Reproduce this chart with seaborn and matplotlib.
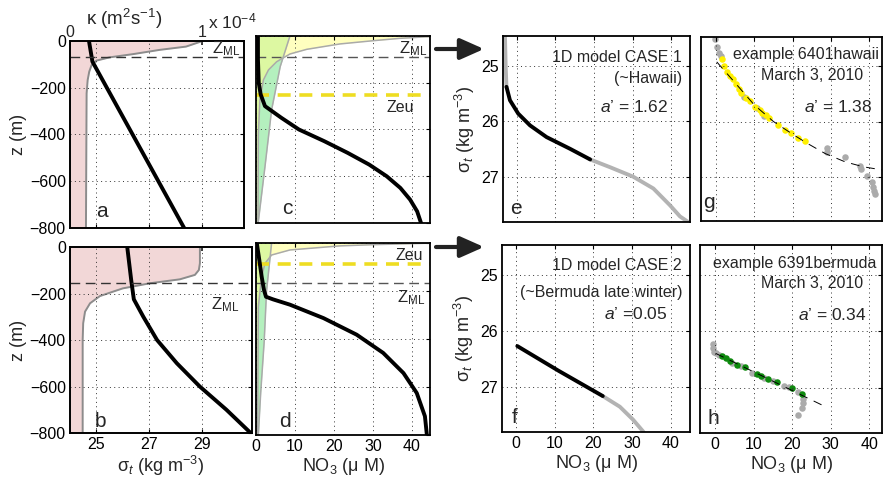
import matplotlib
matplotlib.use("Agg")
import matplotlib.pyplot as plt
import seaborn as sns

W, H = 883, 486

# ---- a / b : diffusivity kappa (units of 1e-4 m2/s) and sigma_t vs depth
kap_a_z = [0, -4, -24, -38, -56, -70, -84, -103, -131, -167, -224, -800]
kap_a = [1.0, 0.985, 0.88, 0.68, 0.48, 0.30, 0.20, 0.164, 0.146, 0.134, 0.126, 0.121]
sig_a_z = [0, -88, -800]
sig_a = [24.72, 24.85, 28.33]
zml_a = -70

kap_b_z = [0, -70, -99, -120, -139, -156, -178, -211, -242, -278, -328, -400, -800]
kap_b = [0.985, 0.985, 0.977, 0.947, 0.833, 0.606, 0.40, 0.227, 0.152, 0.114, 0.10, 0.096, 0.096]
sig_b_z = [0, -142, -225, -300, -400, -500, -600, -700, -800]
sig_b = [26.17, 26.32, 26.42, 26.78, 27.3, 28.05, 28.92, 29.93, 30.85]
zml_b = -155

# ---- c / d : light-like curve (yellow), green wedge, NO3 profile
yel_c_z = [0, -3, -10, -20, -34, -57, -77, -110, -145, -188, -274, -417, -800]
yel_c = [48, 44.2, 36.9, 30.1, 21.5, 13, 8.7, 5.3, 3.2, 1.9, 1.0, 0.6, 0.5]
grn_c_z = [0, -131, -316, -559, -800]
grn_c = [8.7, 6.2, 4.0, 2.3, 0.55]
no3_c_z = [0, -100, -200, -250, -300, -350, -400, -450, -500, -550, -600, -650, -700, -750, -800]
no3_c = [0.5, 0.5, 0.7, 1.2, 2.3, 6.5, 11, 17.5, 23.5, 29, 33.5, 37, 39.5, 41.3, 42.3]
zml_c = -90
zeu_c = -252

yel_d_z = [0, -1, -7, -12, -29, -50, -85, -140, -265, -800]
yel_d = [48, 43.8, 30, 21.5, 8.7, 4.0, 2.3, 1.45, 0.6, 0.4]
grn_d_z = [0, -200, -410, -625, -800]
grn_d = [4.0, 2.7, 2.1, 1.2, 0.6]
no3_d_z = [0, -71, -140, -196, -224, -235, -257, -313, -382, -458, -542, -625, -722, -800]
no3_d = [0.2, 0.85, 1.45, 2.05, 2.56, 4.4, 8.7, 17.3, 25.8, 32.6, 37.8, 41.2, 43.3, 43.8]
zml_d = -167
zeu_d = -87

# ---- e / f : model NO3 vs sigma_t
e_gray1_n = [-3.1, -2.9, -2.7]
e_gray1_s = [24.45, 25.03, 25.38]
e_black_n = [-2.7, -1.8, 0.35, 3.4, 7.7, 13.8, 19.0]
e_black_s = [25.38, 25.62, 25.86, 26.07, 26.28, 26.49, 26.68]
e_gray2_n = [19.0, 24.2, 30.2, 35.4, 39.7, 42.3, 45.5]
e_gray2_s = [26.68, 26.82, 26.99, 27.2, 27.5, 27.7, 27.85]

f_black_n = [0.35, 11, 22.4]
f_black_s = [26.27, 26.71, 27.16]
f_gray_n = [22.4, 26.8, 30.2, 32.8, 33.3]
f_gray_s = [27.16, 27.35, 27.58, 27.79, 27.85]

# ---- g / h : float observations
g_gray_n = [-0.26, 0.17, 0.9, 1.2, 7.2, 10.6, 12.6, 28.9, 28.9, 33.7, 37.6, 37.8, 39.3, 40.6, 41.0, 41.3, 41.5]
g_gray_s = [24.5, 24.66, 24.76, 24.82, 25.55, 25.75, 25.9, 26.48, 26.55, 26.65, 26.80, 26.86, 26.98, 27.1, 27.19, 27.25, 27.31]
g_yel_n = [1.5, 2.2, 3.0, 3.7, 4.4, 5.1, 6.1, 6.5, 7.8, 8.9, 10.2, 11.5, 11.9, 13.1, 13.9, 16.3, 18.0, 19.6, 21.5, 23.2]
g_yel_s = [24.87, 24.99, 25.11, 25.17, 25.23, 25.32, 25.42, 25.48, 25.57, 25.63, 25.73, 25.8, 25.85, 25.89, 25.94, 26.06, 26.15, 26.2, 26.3, 26.36]
g_fit_n = [0.2, 5, 10, 15, 20, 23.7, 28.5, 33.7, 38.5, 43.7]
g_fit_s = [24.92, 25.3, 25.7, 26.0, 26.23, 26.39, 26.58, 26.73, 26.82, 26.88]

h_gray_n = [-0.4, -0.4, -0.26, 0.17, 1.0, 4.5, 6.7, 9.7, 12.8, 15.0, 18.0, 19.3, 21.5, 22.8, 22.8, 22.6, 21.5]
h_gray_s = [26.22, 26.3, 26.36, 26.39, 26.41, 26.56, 26.62, 26.73, 26.82, 26.88, 26.97, 26.99, 27.08, 27.19, 27.27, 27.36, 27.49]
h_grn_n = [1.9, 2.8, 3.8, 5.7, 7.8, 10.8, 11.9, 13.8, 16.1, 19.9, 22.6]
h_grn_s = [26.43, 26.48, 26.53, 26.59, 26.63, 26.75, 26.79, 26.84, 26.89, 27.0, 27.11]
h_fit_n = [0.17, 28.5]
h_fit_s = [26.39, 27.33]

sns.set_theme(style="white")
plt.rcParams['font.family'] = ['Liberation Sans', 'DejaVu Sans']
plt.rcParams['mathtext.fontset'] = 'custom'
plt.rcParams['mathtext.rm'] = 'Liberation Sans'
plt.rcParams['mathtext.it'] = 'Liberation Sans:italic'

fig = plt.figure(figsize=(W / 100, H / 100), dpi=100)
fig.patch.set_facecolor('white')


def px_axes(x0, y0, x1, y1):
    return fig.add_axes([x0 / W, 1 - y1 / H, (x1 - x0) / W, (y1 - y0) / H])


def px_text(x, y, s, **kw):
    kw.setdefault('ha', 'center')
    kw.setdefault('va', 'center')
    fig.text(x / W, 1 - y / H, s, **kw)


def frame(ax, top=True):
    for sp in ax.spines.values():
        sp.set_linewidth(1.3)
        sp.set_color('black')
    ax.tick_params(direction='in', length=3, width=0.8, labelsize=11.5, pad=3,
                   colors='black', top=top, right=True)
    ax.grid(True, color='#333333', lw=0.7, ls=(0, (1, 3.5)))
    ax.set_axisbelow('line')


def line(ax, x, y, color, lw=2.8, **kw):
    sns.lineplot(x=x, y=y, sort=False, estimator=None, ax=ax, color=color, lw=lw, **kw)


pink = '#F2D7D7'
kgray = '#8C8C8C'
lgray = '#B3B3B3'
zdash = (0, (7, 4))

# ---------- a
ax_a = px_axes(70, 41, 244, 228)
ax_ka = ax_a.twiny()
ax_ka.fill_betweenx(kap_a_z, 0, kap_a, color=pink, lw=0)
line(ax_ka, kap_a, kap_a_z, kgray, lw=1.4)
ax_ka.set_xlim(0, 1.32)
ax_ka.set_xticks([0, 1])
ax_ka.set_xticklabels(['0', '1'])
ax_ka.tick_params(direction='in', length=3, labelsize=11.5, pad=1)
ax_a.set_zorder(ax_ka.get_zorder() + 1)
ax_a.patch.set_visible(False)
line(ax_a, sig_a, sig_a_z, 'black')
ax_a.axhline(zml_a, color='#333333', lw=1.0, ls=zdash)
ax_a.set_xlim(24, 30.6)
ax_a.set_ylim(-800, 0)
ax_a.set_xticks([25, 27, 29])
ax_a.set_yticks([-800, -600, -400, -200, 0])
frame(ax_a, top=False)
ax_a.set_xticklabels([])
ax_a.set_ylabel('z (m)', fontsize=13, labelpad=2)

# ---------- b
ax_b = px_axes(70, 247, 252, 433)
ax_kb = ax_b.twiny()
ax_kb.fill_betweenx(kap_b_z, 0, kap_b, color=pink, lw=0)
line(ax_kb, kap_b, kap_b_z, kgray, lw=1.4)
ax_kb.set_xlim(0, 1.38)
ax_kb.set_xticks([0, 1])
ax_kb.set_xticklabels([])
ax_kb.tick_params(direction='in', length=3)
ax_b.set_zorder(ax_kb.get_zorder() + 1)
ax_b.patch.set_visible(False)
line(ax_b, sig_b, sig_b_z, 'black')
ax_b.axhline(zml_b, color='#333333', lw=1.0, ls=zdash)
ax_b.set_xlim(24, 30.9)
ax_b.set_ylim(-800, 0)
ax_b.set_xticks([25, 27, 29])
ax_b.set_yticks([-800, -600, -400, -200, 0])
frame(ax_b, top=False)
ax_b.set_ylabel('z (m)', fontsize=13, labelpad=2)
ax_b.set_xlabel('σ$_t$ (kg m$^{-3}$)', fontsize=13, labelpad=1)


# ---------- c / d
def profile(ax, yz, yv, gz, gv, nz, nv, zml, zeu, xlabels):
    ax.fill_betweenx(gz, 0, gv, color='#B4F0BE', lw=0)
    ax.fill_betweenx(yz, 0, yv, color='#FFFF8C', alpha=0.55, lw=0)
    line(ax, gv, gz, '#AAAAAA', lw=1.1)
    line(ax, yv, yz, '#AAAAAA', lw=1.1)
    ax.axhline(zml, color='#555555', lw=1.0, ls=zdash)
    ax.axhline(zeu, color='#EEDD22', lw=2.6, ls=(0, (3.6, 2.4)))
    line(ax, nv, nz, 'black')
    ax.set_xlim(0, 44.6)
    ax.set_ylim(-800, 0)
    ax.set_xticks([0, 10, 20, 30, 40])
    ax.set_yticks([-800, -600, -400, -200, 0])
    frame(ax)
    ax.set_yticklabels([])
    if not xlabels:
        ax.set_xticklabels([])


ax_c = px_axes(256, 36, 430, 223)
profile(ax_c, yel_c_z, yel_c, grn_c_z, grn_c, no3_c_z, no3_c, zml_c, zeu_c, False)
ax_d = px_axes(256, 243, 430, 435)
profile(ax_d, yel_d_z, yel_d, grn_d_z, grn_d, no3_d_z, no3_d, zml_d, zeu_d, True)
ax_d.set_xlabel('NO$_3$ (μ M)', fontsize=13, labelpad=1)


# ---------- e / f / g / h
def sig_axes(ax, xl, ylabels, xlabels):
    ax.set_xlim(*xl)
    ax.set_ylim(27.8, 24.47)
    ax.set_xticks([0, 10, 20, 30, 40])
    ax.set_yticks([25, 26, 27])
    frame(ax)
    if not ylabels:
        ax.set_yticklabels([])
    if not xlabels:
        ax.set_xticklabels([])


ax_e = px_axes(503, 36, 690, 222)
line(ax_e, e_gray1_n, e_gray1_s, lgray)
line(ax_e, e_gray2_n, e_gray2_s, lgray)
line(ax_e, e_black_n, e_black_s, 'black')
sig_axes(ax_e, (-3.6, 44.9), True, False)
ax_e.set_ylabel('σ$_t$ (kg m$^{-3}$)', fontsize=13, labelpad=3)

ax_f = px_axes(502, 245, 690, 432)
line(ax_f, f_gray_n, f_gray_s, lgray)
line(ax_f, f_black_n, f_black_s, 'black')
sig_axes(ax_f, (-3.6, 44.9), True, True)
ax_f.set_ylabel('σ$_t$ (kg m$^{-3}$)', fontsize=13, labelpad=3)
ax_f.set_xlabel('NO$_3$ (μ M)', fontsize=13, labelpad=1)

ax_g = px_axes(701, 37, 882, 221)
sns.scatterplot(x=g_gray_n, y=g_gray_s, ax=ax_g, color='#ABABAB', s=22, linewidth=0)
sns.scatterplot(x=g_yel_n, y=g_yel_s, ax=ax_g, color='#FFF000', s=22, linewidth=0)
line(ax_g, g_fit_n, g_fit_s, 'black', lw=0.7, ls=(0, (9, 7)))
sig_axes(ax_g, (-3.9, 43.3), False, False)

ax_h = px_axes(700, 245, 882, 433)
sns.scatterplot(x=h_gray_n, y=h_gray_s, ax=ax_h, color='#ABABAB', s=22, linewidth=0)
sns.scatterplot(x=h_grn_n, y=h_grn_s, ax=ax_h, color='#0E8A0E', s=22, linewidth=0)
line(ax_h, h_fit_n, h_fit_s, 'black', lw=0.7, ls=(0, (9, 7)))
sig_axes(ax_h, (-3.9, 43.3), False, True)
ax_h.set_xlabel('NO$_3$ (μ M)', fontsize=13, labelpad=1)

# ---------- annotations
px_text(124, 19, 'κ (m$^2$s$^{-1}$)', fontsize=13.5)
px_text(232, 21, 'x 10$^{-4}$', fontsize=12.5)
zml = r'Z$_{\mathrm{ML}}$'
px_text(226, 49, zml, fontsize=12)
px_text(413, 49, zml, fontsize=12)
px_text(225, 305, zml, fontsize=12)
px_text(411, 298, zml, fontsize=12)
px_text(400, 107, 'Zeu', fontsize=11.5)
px_text(409, 255, 'Zeu', fontsize=11.5)

for x, y, s in [(102, 211, 'a'), (100, 421, 'b'), (287, 208, 'c'), (285, 421, 'd'),
                (516, 209, 'e'), (515, 417, 'f'), (709, 203, 'g'), (713, 418, 'h')]:
    px_text(x, y, s, fontsize=15)

px_text(682, 58, '1D model CASE 1', fontsize=11.5, ha='right')
px_text(682, 79, '(~Hawaii)', fontsize=11.5, ha='right')
px_text(668, 107, "$\\it{a}$’ = 1.62", fontsize=12.5, ha='right')
px_text(682, 265, '1D model CASE 2', fontsize=11.5, ha='right')
px_text(682, 292, '(~Bermuda late winter)', fontsize=11.5, ha='right')
px_text(668, 314, "$\\it{a}$’ =0.05", fontsize=12.5, ha='right')

px_text(733, 55, 'example 6401hawaii', fontsize=11.5, ha='left')
px_text(812, 75, 'March 3, 2010', fontsize=11.5)
px_text(872, 107, "$\\it{a}$’ = 1.38", fontsize=12.5, ha='right')
px_text(713, 263, 'example 6391bermuda', fontsize=11.5, ha='left')
px_text(812, 283, 'March 3, 2010', fontsize=11.5)
px_text(867, 315, "$\\it{a}$’ = 0.34", fontsize=12.5, ha='right')

for y in (49, 247):
    ax_e.annotate('', xy=(484, H - y), xytext=(436, H - y),
                  xycoords='figure pixels', textcoords='figure pixels',
                  annotation_clip=False,
                  arrowprops=dict(arrowstyle='-|>,head_length=0.9,head_width=0.4',
                                  mutation_scale=16, lw=3.0, color='#222222',
                                  shrinkA=0, shrinkB=0))

fig.savefig('out.png', dpi=100)
